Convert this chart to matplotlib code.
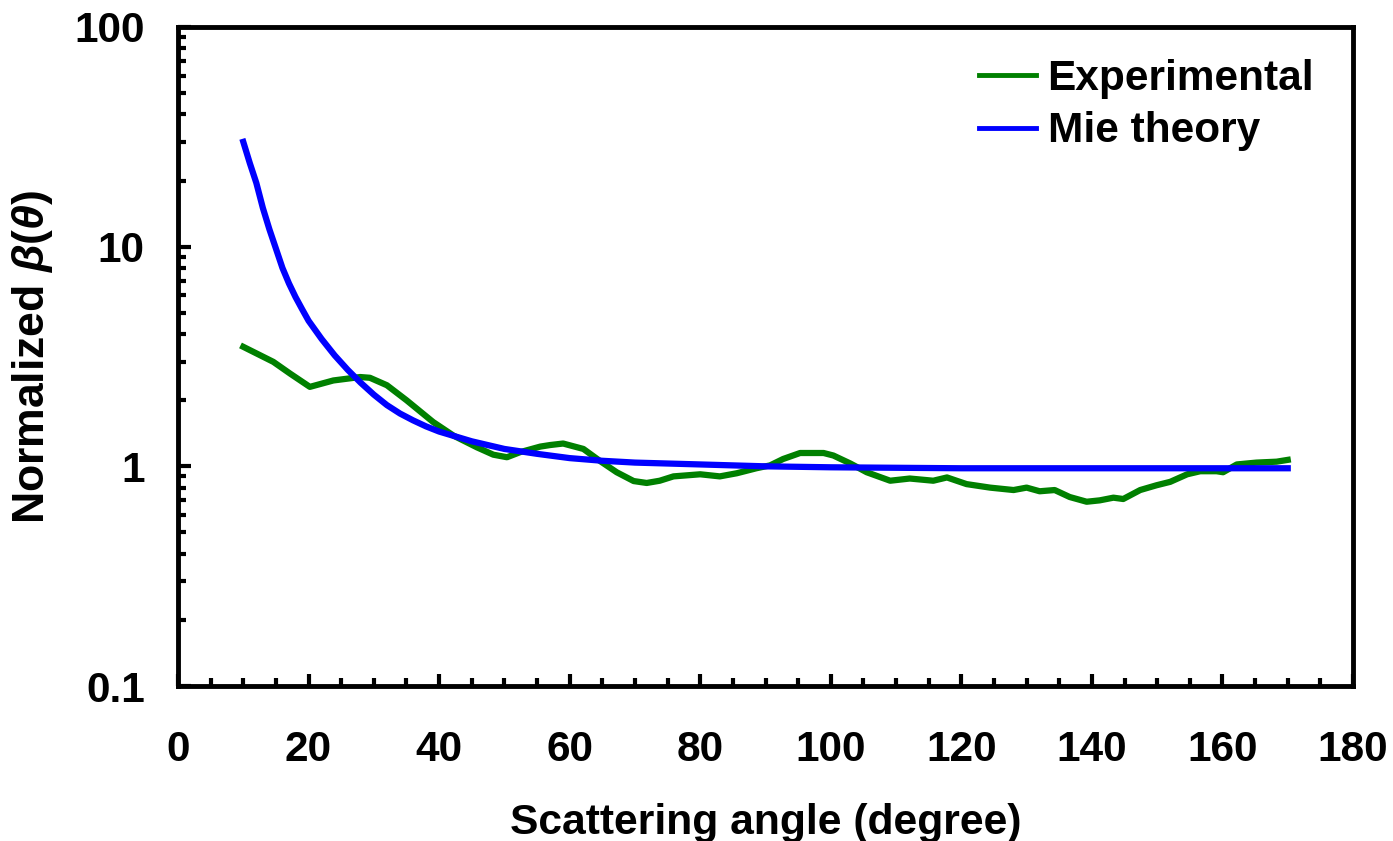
import numpy as np
import matplotlib
matplotlib.use('Agg')
import matplotlib.pyplot as plt
from matplotlib.ticker import MultipleLocator, LogLocator, NullFormatter, FixedLocator, FixedFormatter

# Mie theory curve
mie_angle = [10, 11, 12, 13, 14, 15, 16, 17, 18, 19, 20, 22, 24, 26, 28, 30, 32, 34, 36, 38,
             40, 45, 50, 55, 60, 65, 70, 80, 90, 100, 110, 120, 130, 140, 150, 160, 170]
mie_value = [30, 24, 19.5, 15, 12, 9.8, 8.0, 6.8, 5.9, 5.2, 4.6, 3.8, 3.2, 2.75, 2.4, 2.12, 1.9, 1.74, 1.62, 1.52,
             1.44, 1.30, 1.20, 1.14, 1.09, 1.06, 1.04, 1.02, 1.0, 0.99, 0.985, 0.98, 0.98, 0.98, 0.98, 0.98, 0.98]

# Experimental curve
exp_angle = [10, 14.6, 17.2, 20.2, 23.8, 27.9, 29.4, 32, 35, 39.1, 42.2, 45.8, 48.3, 50.4, 52.4, 55.5, 57,
             59, 62.1, 64.6, 67.2, 69.8, 71.8, 73.8, 75.9, 80, 83, 85.6, 88.6, 90.7, 92.7, 95.3, 98.9, 100.4,
             103, 105.5, 109.1, 112.1, 115.7, 117.8, 120.8, 124.4, 128, 130, 132, 134.3, 136.6, 139.2, 141.2,
             143.3, 144.8, 147.4, 149.9, 152, 154.6, 156.6, 159.1, 160.1, 162.2, 165.2, 168.3, 170]
exp_value = [3.5, 2.99, 2.64, 2.30, 2.46, 2.55, 2.53, 2.34, 2.0, 1.59, 1.38, 1.22, 1.13, 1.10, 1.16, 1.23, 1.25,
             1.27, 1.20, 1.06, 0.94, 0.857, 0.84, 0.86, 0.90, 0.92, 0.90, 0.93, 0.98, 1.01, 1.08, 1.15, 1.15, 1.12,
             1.03, 0.94, 0.86, 0.88, 0.86, 0.89, 0.83, 0.80, 0.78, 0.80, 0.77, 0.78, 0.725, 0.69, 0.70,
             0.72, 0.71, 0.78, 0.82, 0.85, 0.92, 0.95, 0.95, 0.94, 1.02, 1.04, 1.05, 1.07]

y_ticks = [0.1, 1, 10, 100]
y_tick_labels = ['0.1', '1', '10', '100']

plt.rcParams['font.family'] = ['Liberation Sans', 'DejaVu Sans']
plt.rcParams['font.weight'] = 'bold'
plt.rcParams['mathtext.fontset'] = 'custom'
plt.rcParams['mathtext.it'] = 'Liberation Sans:italic:bold'
plt.rcParams['mathtext.rm'] = 'Liberation Sans:bold'

fig = plt.figure(figsize=(13.93, 8.41), dpi=100)
ax = fig.add_axes([178 / 1393, 1 - 686 / 841, 1175 / 1393, 659 / 841])

ax.plot(exp_angle, exp_value, color='#008000', lw=4.5, label='Experimental')
ax.plot(mie_angle, mie_value, color='#0000FF', lw=4.5, label='Mie theory')

ax.set_yscale('log')
ax.set_xlim(0, 180)
ax.set_ylim(0.1, 100)

ax.xaxis.set_major_locator(MultipleLocator(20))
ax.xaxis.set_minor_locator(MultipleLocator(5))
ax.yaxis.set_major_locator(FixedLocator(y_ticks))
ax.yaxis.set_major_formatter(FixedFormatter(y_tick_labels))
ax.yaxis.set_minor_locator(LogLocator(base=10, subs=np.arange(2, 10)))
ax.yaxis.set_minor_formatter(NullFormatter())

for s in ax.spines.values():
    s.set_linewidth(3.5)
ax.tick_params(which='major', direction='in', length=9, width=3, labelsize=30.5, top=False, right=False)
ax.tick_params(which='minor', direction='in', length=6, width=3, top=False, right=False)
ax.tick_params(axis='x', which='major', pad=32)
ax.tick_params(axis='y', which='major', pad=24)

ax.set_xlabel('Scattering angle (degree)', fontsize=30.7, fontweight='bold')
ax.set_ylabel(r'Normalized $\beta(\theta)$', fontsize=32, fontweight='bold')
ax.xaxis.set_label_coords(0.5, -0.178)
ax.yaxis.set_label_coords(-0.105, 0.5)

leg = ax.legend(loc='upper left', bbox_to_anchor=(0.682, 0.952), frameon=False, fontsize=30.5,
                handlelength=1.33, handletextpad=0.28, labelspacing=0.3, borderpad=0, borderaxespad=0)
for h in leg.get_lines():
    h.set_linewidth(3.5)

fig.savefig('out.png', dpi=100)
